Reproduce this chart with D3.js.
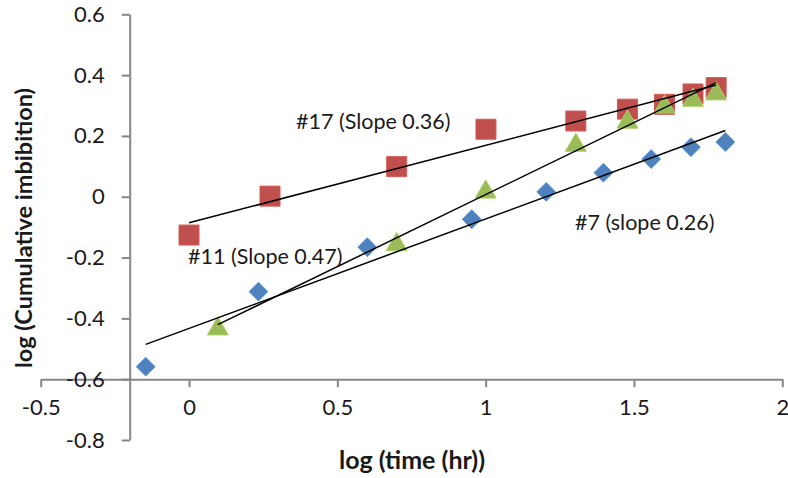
<!DOCTYPE html>
<html>
<head>
<meta charset="utf-8">
<script src="https://cdn.jsdelivr.net/npm/d3@7"></script>
<style>
  body { margin: 0; background: #fff; }
  text { font-family: Lato, "Open Sans", sans-serif; fill: #1a1a1a; }
  .axis path, .axis line { stroke: #868686; stroke-width: 2; }
  .axis text { font-size: 22px; }
</style>
</head>
<body>
<div id="chart"></div>
<script>
// values
var xTicks = [-0.5, 0, 0.5, 1, 1.5, 2];
var yTicks = [-0.8, -0.6, -0.4, -0.2, 0, 0.2, 0.4, 0.6];

var s7x = [-0.146, 0.234, 0.601, 0.953, 1.204, 1.397, 1.558, 1.692, 1.808];
var s7y = [-0.559, -0.312, -0.166, -0.074, 0.016, 0.079, 0.124, 0.163, 0.180];

var s17x = [0.0, 0.273, 0.700, 1.001, 1.304, 1.478, 1.603, 1.699, 1.777];
var s17y = [-0.126, 0.002, 0.099, 0.222, 0.249, 0.288, 0.304, 0.338, 0.359];

var s11x = [0.097, 0.700, 1.000, 1.304, 1.478, 1.603, 1.699, 1.777];
var s11y = [-0.428, -0.151, 0.022, 0.176, 0.252, 0.302, 0.324, 0.345];

var W = 788, H = 478;

var svg = d3.select("#chart").append("svg")
    .attr("width", W)
    .attr("height", H);

var x = d3.scaleLinear().domain([-0.5, 2]).range([40.7, 782.3]);
var y = d3.scaleLinear().domain([-0.8, 0.6]).range([440, 14.3]);

var fmt = function(d) { return d === 0 ? "0" : String(d); };

// axes - x crosses at y=-0.6, y crosses at x=-0.2
svg.append("g")
    .attr("class", "axis")
    .attr("transform", "translate(0," + y(-0.6) + ")")
    .call(d3.axisBottom(x).tickValues(xTicks).tickFormat(fmt)
        .tickSize(8).tickSizeOuter(0).tickPadding(12));

svg.append("g")
    .attr("class", "axis")
    .attr("transform", "translate(" + x(-0.2) + ",0)")
    .call(d3.axisLeft(y).tickValues(yTicks).tickFormat(fmt)
        .tickSize(8).tickSizeOuter(0).tickPadding(17));

svg.selectAll(".axis text").style("fill", "#1a1a1a");

// least squares line like excel's linear trendline
function trend(xs, ys) {
    var mx = d3.mean(xs), my = d3.mean(ys);
    var sxy = d3.sum(xs, function(v, i) { return (v - mx) * (ys[i] - my); });
    var sxx = d3.sum(xs, function(v) { return (v - mx) * (v - mx); });
    var b = sxy / sxx, a = my - b * mx;
    var x0 = d3.min(xs), x1 = d3.max(xs);
    return [[x0, a + b * x0], [x1, a + b * x1]];
}

var series = [
    {name: "#7", xs: s7x, ys: s7y, color: "#4F81BD", shape: "diamond"},
    {name: "#17", xs: s17x, ys: s17y, color: "#C0504D", shape: "square"},
    {name: "#11", xs: s11x, ys: s11y, color: "#9BBB59", shape: "triangle"}
];

var symbols = {
    diamond: d3.symbol().type(d3.symbolDiamond2).size(225),
    square: d3.symbol().type(d3.symbolSquare).size(400),
    triangle: d3.symbol().type(d3.symbolTriangle).size(190)
};

series.forEach(function(s) {
    var pts = s.xs.map(function(v, i) { return [v, s.ys[i]]; });
    var g = svg.append("g");
    g.selectAll("path.pt")
        .data(pts)
        .enter().append("path")
        .attr("class", "pt")
        .attr("d", symbols[s.shape])
        .attr("transform", function(d) {
            var dy = s.shape == "triangle" ? 2 : 0;
            return "translate(" + x(d[0]) + "," + (y(d[1]) + dy) + ")";
        })
        .attr("fill", s.color)
        .attr("stroke", d3.color(s.color).brighter(0.3))
        .attr("stroke-width", 1);
});

// trendlines drawn over the markers
series.forEach(function(s) {
    var t = trend(s.xs, s.ys);
    svg.append("line")
        .attr("x1", x(t[0][0])).attr("y1", y(t[0][1]))
        .attr("x2", x(t[1][0])).attr("y2", y(t[1][1]))
        .attr("stroke", "#000")
        .attr("stroke-width", 1.5);
});

// labels
var notes = [
    {text: "#17 (Slope 0.36)", x: 296, y: 121},
    {text: "#11 (Slope 0.47)", x: 188, y: 256},
    {text: "#7 (slope 0.26)", x: 575, y: 222}
];
svg.selectAll("text.note")
    .data(notes)
    .enter().append("text")
    .attr("class", "note")
    .attr("x", function(d) { return d.x; })
    .attr("y", function(d) { return d.y; })
    .attr("dy", "0.35em")
    .style("font-size", "21.5px")
    .text(function(d) { return d.text; });

// axis titles
svg.append("text")
    .attr("x", 412)
    .attr("y", 460)
    .attr("dy", "0.35em")
    .attr("text-anchor", "middle")
    .style("font-size", "25px")
    .style("font-weight", "bold")
    .text("log (time (hr))");

svg.append("text")
    .attr("transform", "translate(24,228) rotate(-90)")
    .attr("dy", "0.35em")
    .attr("text-anchor", "middle")
    .style("font-size", "23.5px")
    .style("font-weight", "bold")
    .text("log (Cumulative imbibition)");
</script>
</body>
</html>
